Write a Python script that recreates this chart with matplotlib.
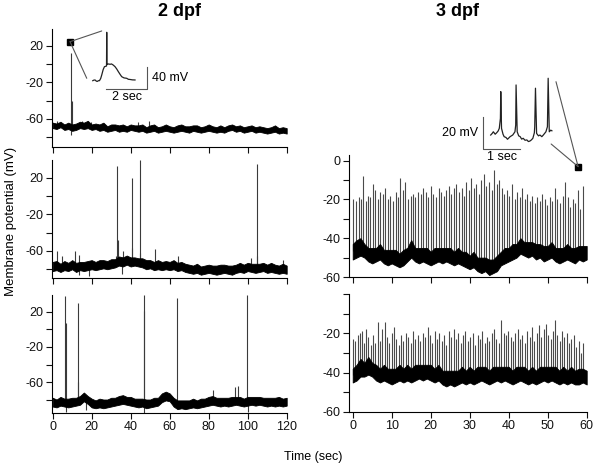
import numpy as np
import matplotlib
matplotlib.use("Agg")
import matplotlib.pyplot as plt
from matplotlib.patches import ConnectionPatch

plt.rcParams['font.family'] = ['Liberation Sans', 'DejaVu Sans']

W, H = 600, 468

# ---------------- data ----------------
# 2 dpf traces: upper / lower edge of the noisy baseline, every 2 s (mV)
t_2dpf = np.arange(0, 121, 2)
p1_hi = [-64, -65, -63, -66, -64, -66, -65, -63, -64, -62,
         -66, -65, -66, -64, -68, -66, -66, -67, -66, -68,
         -66, -67, -67, -66, -69, -67, -66, -69, -68, -66,
         -68, -69, -67, -66, -68, -68, -67, -67, -69, -68,
         -66, -68, -69, -67, -69, -67, -66, -68, -67, -69,
         -68, -67, -69, -68, -69, -70, -69, -67, -70, -69,
         -70]
p1_lo = [-70, -71, -69, -72, -71, -73, -72, -70, -71, -70,
         -72, -71, -73, -72, -74, -73, -72, -74, -73, -74,
         -72, -73, -74, -73, -75, -74, -73, -75, -74, -73,
         -74, -75, -74, -73, -74, -75, -73, -74, -75, -74,
         -73, -74, -75, -74, -75, -73, -72, -74, -73, -75,
         -74, -73, -75, -74, -75, -76, -75, -74, -76, -75,
         -76]
p1_spk_t = [2.0, 9.6, 9.6, 9.8, 15.2, 19.5, 44.0, 49.4]
p1_spk_v = [-62, 12, -78, -40, -62, -63, -63, -62]

p2_hi = [-72, -71, -74, -71, -73, -70, -73, -72, -72, -71,
         -70, -72, -70, -70, -71, -69, -69, -66, -67, -65,
         -67, -67, -68, -68, -70, -70, -72, -70, -72, -71,
         -72, -70, -73, -72, -74, -75, -76, -74, -77, -76,
         -75, -76, -76, -75, -75, -76, -76, -75, -73, -75,
         -73, -74, -74, -74, -73, -75, -73, -75, -76, -74,
         -76]
p2_lo = [-82, -81, -83, -81, -82, -80, -83, -81, -82, -81,
         -80, -81, -80, -79, -80, -79, -78, -76, -77, -75,
         -77, -76, -77, -78, -80, -79, -81, -80, -81, -80,
         -81, -80, -82, -81, -83, -84, -85, -84, -86, -85,
         -84, -85, -86, -85, -84, -85, -86, -84, -83, -84,
         -82, -83, -84, -83, -82, -84, -83, -84, -85, -84,
         -85]
p2_spk_t = [2.4, 5.0, 11.3, 13.6, 13.7, 18.6, 32.5, 33.2, 33.4, 35.7, 35.9,
            40.5, 40.6, 44.6, 44.7, 52.3, 64.4, 101.5, 104.6, 104.8, 118.0]
p2_spk_v = [-60, -66, -60, -64, -86, -87, -66, 33.5, -48, -85, -60,
            20.3, -57, 39.5, -62, -58, -66, -68, 35.3, -66, -70]

p3_hi = [-78, -80, -77, -79, -79, -78, -78, -76, -72, -76,
         -79, -81, -79, -80, -80, -78, -78, -76, -75, -77,
         -77, -79, -79, -79, -80, -80, -78, -78, -73, -71,
         -73, -78, -81, -81, -81, -81, -79, -81, -79, -79,
         -77, -76, -78, -78, -78, -78, -77, -77, -77, -79,
         -77, -77, -77, -77, -78, -78, -78, -78, -77, -79,
         -78]
p3_lo = [-88, -89, -87, -88, -89, -88, -87, -86, -82, -85,
         -89, -90, -89, -90, -89, -88, -87, -86, -85, -86,
         -87, -88, -89, -88, -90, -89, -88, -87, -83, -81,
         -82, -88, -91, -90, -91, -90, -89, -90, -89, -88,
         -87, -86, -87, -88, -87, -88, -87, -86, -87, -88,
         -87, -86, -87, -86, -87, -88, -87, -88, -87, -88,
         -87]
p3_spk_t = [6.5, 6.8, 7.0, 12.9, 13.2, 17.3, 46.7, 46.9, 46.8, 63.9,
            82.0, 93.3, 95.0, 99.8, 100.0]
p3_spk_v = [38.3, 7.8, -94, -60, 30.3, -92, 39.4, 21, -95, 36,
            -69, -66, -64, 39, -94]

# 3 dpf traces: upper / lower edge of the noisy baseline, every 1 s (mV)
t_3dpf = np.arange(0, 61, 1)
r1_hi = [-43, -41, -40, -43, -45, -45, -45, -43, -46, -46,
         -46, -46, -48, -46, -45, -41, -45, -45, -45, -45,
         -47, -45, -45, -45, -45, -45, -47, -45, -47, -47,
         -49, -47, -50, -50, -50, -51, -51, -49, -47, -45,
         -45, -43, -43, -40, -42, -42, -42, -43, -43, -44,
         -44, -42, -45, -45, -45, -43, -45, -45, -44, -44,
         -44]
r1_lo = [-51, -50, -49, -50, -52, -53, -52, -51, -53, -54,
         -53, -54, -55, -54, -52, -50, -52, -53, -52, -53,
         -54, -53, -52, -53, -52, -53, -54, -53, -54, -55,
         -56, -55, -57, -58, -57, -59, -58, -57, -54, -53,
         -52, -51, -50, -48, -49, -50, -49, -51, -50, -52,
         -51, -50, -52, -53, -52, -51, -52, -53, -51, -52,
         -51]
r1_spk_t = [0.2, 0.9, 1.5, 2.2, 2.7, 3.3, 3.9, 4.5, 5.1, 5.8, 6.4, 7.0, 7.7, 8.3,
            9.0, 9.6, 10.3, 11.0, 11.6, 12.2, 12.9, 13.5, 14.2, 14.9, 15.5, 16.1,
            16.8, 17.4, 18.1, 18.8, 19.4, 20.0, 20.7, 21.3, 22.0, 22.7, 23.3, 23.9,
            24.6, 25.2, 25.9, 26.5, 27.2, 27.9, 28.5, 29.1, 29.8, 30.4, 31.1, 31.7,
            32.4, 33.0, 33.7, 34.3, 35.0, 35.6, 36.3, 36.9, 37.6, 38.2, 38.9, 39.5,
            40.2, 40.9, 41.5, 42.2, 42.8, 43.4, 44.1, 44.7, 45.4, 46.0, 46.7, 47.3,
            48.0, 48.6, 49.3, 49.9, 50.6, 51.2, 51.9, 52.5, 53.2, 53.8, 54.5, 55.1,
            55.8, 56.4, 57.0, 57.7, 58.3, 59.0]
r1_spk_v = [-20, -21, -19, -20, -8, -21, -18, -19, -12, -15, -20, -16, -17, -14,
            -20, -18, -21, -16, -19, -9, -15, -11, -20, -18, -17, -19,
            -16, -17, -14, -16, -19, -13, -17, -19, -14, -16, -18, -15,
            -13, -17, -14, -12, -16, -14, -18, -11, -15, -9, -14, -12,
            -17, -10, -7, -13, -11, -15, -5, -12, -10, -14, -17, -15,
            -18, -12, -20, -16, -19, -14, -20, -17, -21, -18, -22, -19,
            -21, -17, -20, -23, -19, -21, -14, -20, -22, -18, -11, -19,
            -24, -20, -22, -15, -25, -13]

r2_hi = [-38, -36, -33, -35, -32, -35, -36, -38, -36, -38,
         -38, -38, -36, -38, -36, -38, -36, -36, -36, -36,
         -36, -38, -36, -39, -39, -39, -39, -39, -37, -39,
         -37, -39, -37, -37, -37, -39, -37, -37, -37, -37,
         -37, -39, -37, -37, -37, -39, -37, -39, -37, -37,
         -37, -37, -37, -39, -37, -39, -37, -39, -38, -38,
         -39]
r2_lo = [-45, -44, -42, -42, -41, -42, -44, -45, -44, -45,
         -46, -45, -44, -45, -44, -45, -44, -43, -44, -43,
         -44, -45, -44, -46, -47, -46, -47, -46, -45, -46,
         -45, -46, -45, -44, -45, -46, -45, -44, -45, -44,
         -45, -46, -45, -44, -45, -46, -45, -46, -45, -44,
         -45, -44, -45, -46, -45, -46, -45, -46, -46, -45,
         -46]
r2_spk_t = [0.1, 0.7, 1.3, 1.9, 2.4, 2.9, 3.4, 4.0, 4.6, 5.1, 5.7, 6.4, 7.0, 7.6,
            8.2, 8.8, 9.4, 10.0, 10.6, 11.2, 11.8, 12.4, 13.0, 13.6, 14.2, 14.9,
            15.5, 16.1, 16.7, 17.3, 17.9, 18.5, 19.2, 19.8, 20.4, 21.0, 21.6, 22.2,
            22.8, 23.4, 24.0, 24.6, 25.2, 25.9, 26.5, 27.1, 27.7, 28.3, 28.9, 29.5,
            30.1, 30.8, 31.4, 32.0, 32.6, 33.2, 33.8, 34.4, 35.0, 35.6, 36.2, 36.8,
            37.4, 38.1, 38.7, 39.3, 39.9, 40.5, 41.1, 41.7, 42.3, 42.9, 43.5, 44.1,
            44.8, 45.4, 46.0, 46.6, 47.2, 47.8, 48.4, 49.0, 49.6, 50.2, 50.8, 51.4,
            51.9, 52.5, 53.1, 53.7, 54.3, 54.9, 55.5, 56.1, 56.7, 57.3, 57.9, 58.5,
            59.1]
r2_spk_v = [-23, -24, -21, -20, -19, -25, -18, -22, -26, -21, -25, -14, -24, -18,
            -14, -22, -25, -20, -17, -23, -26, -21, -24, -20, -22, -25,
            -19, -23, -21, -24, -20, -22, -17, -21, -25, -19, -23, -20,
            -24, -21, -26, -19, -22, -18, -23, -20, -25, -21, -19, -24,
            -22, -20, -26, -21, -23, -19, -25, -22, -24, -20, -18, -23,
            -25, -13, -20, -21, -19, -22, -24, -20, -18, -23, -21, -25,
            -19, -22, -17, -24, -20, -16, -22, -18, -15, -21, -23, -19,
            -13, -21, -24, -19, -22, -20, -25, -23, -21, -27, -24, -30,
            -25]

# insets (time in s relative, mV)
in1_t = [0, 0.05, 0.11, 0.16, 0.21, 0.27, 0.32, 0.38, 0.43, 0.5, 0.56, 0.66, 0.67,
         0.68, 0.75, 0.83, 0.9, 0.98, 1.07, 1.15, 1.23, 1.31, 1.39, 1.5, 1.63,
         1.71, 1.79, 1.9, 2.03]
in1_v = [-70, -69, -68.7, -70.5, -71.4, -70, -70, -66, -59.8, -50, -44.9, -43.7, 16.7,
         -41, -40, -40.6, -40, -41.9, -44.9, -49, -53.9, -58.5, -62.8, -65, -65.7,
         -67.5, -67.8, -68.5, -68.7]
in2_t = [0, 0.04, 0.07, 0.12, 0.16, 0.2, 0.23, 0.26, 0.27, 0.29, 0.33, 0.36, 0.41,
         0.45, 0.52, 0.59, 0.65, 0.67, 0.68, 0.71, 0.75, 0.79, 0.83, 0.87, 0.92,
         0.97, 1.01, 1.05, 1.09, 1.13, 1.17, 1.18, 1.2, 1.23, 1.28, 1.32, 1.37,
         1.41, 1.48, 1.52, 1.54, 1.57, 1.61, 1.64]
in2_v = [-48, -47, -46, -47.5, -46.6, -45.5, -43.9, -37.8, -21.4, -43.9, -47.5, -49,
         -49.5, -50.6, -49, -48, -46, -41.9, -17.3, -46, -48.5, -49, -50.5, -50, -51.2,
         -51, -52, -51.7, -51, -50, -46.6, -42.9, -19.3, -47, -48.5, -48, -49,
         -48, -46, -42.9, -13.2, -46, -45, -45.4]

# zoom markers (where the insets come from)
mark1 = (8.9, 24.7)
mark2 = (57.8, -3.1)

# ---------------- figure ----------------
fig = plt.figure(figsize=(W / 100, H / 100), dpi=100)


def box(l, t, r, b):
    return [l / W, (H - b) / H, (r - l) / W, (b - t) / H]


def style(ax):
    for s in ('top', 'right'):
        ax.spines[s].set_visible(False)
    for s in ('left', 'bottom'):
        ax.spines[s].set_linewidth(0.8)
    ax.tick_params(direction='out', length=4, width=0.8, labelsize=9, pad=2,
                   colors='#111111')


def trace(ax, tb, hi, lo, st, sv, lw_spk, spk_col):
    hi = np.asarray(hi, float)
    lo = np.asarray(lo, float)
    st = np.asarray(st, float)
    sv = np.asarray(sv, float)
    b = np.interp(st, tb, (hi + lo) / 2)
    ax.vlines(st, np.minimum(sv, b), np.maximum(sv, b), color=spk_col,
              lw=lw_spk, zorder=2)
    ax.fill_between(tb, lo, hi, color='k', lw=0.6, edgecolor='k', zorder=3)


left_boxes = [(51.7, 29, 286.7, 147), (51.7, 160, 286.7, 278), (51.7, 295, 286.7, 413)]
left_ylims = [(-90.7, 38.6), (-89.6, 39.7), (-95.4, 39.4)]
left_data = [(p1_hi, p1_lo, p1_spk_t, p1_spk_v),
             (p2_hi, p2_lo, p2_spk_t, p2_spk_v),
             (p3_hi, p3_lo, p3_spk_t, p3_spk_v)]
laxes = []
for i in range(3):
    ax = fig.add_axes(box(*left_boxes[i]))
    hi, lo, st, sv = left_data[i]
    trace(ax, t_2dpf, hi, lo, st, sv, 0.8, '#3a3a3a')
    ax.set_xlim(-0.5, 120)
    ax.set_ylim(*left_ylims[i])
    style(ax)
    ax.set_xticks(np.arange(0, 121, 20))
    ax.set_yticks([-80, -60, -40, -20, 0, 20])
    ax.set_yticklabels(['', '-60', '', '-20', '', '20'])
    if i < 2:
        ax.set_xticklabels([])
    laxes.append(ax)

right_boxes = [(349, 155, 586.7, 277), (349, 294, 586.7, 412)]
right_ylims = [(-60, 2.9), (-60, 0)]
right_data = [(r1_hi, r1_lo, r1_spk_t, r1_spk_v), (r2_hi, r2_lo, r2_spk_t, r2_spk_v)]
raxes = []
for i in range(2):
    ax = fig.add_axes(box(*right_boxes[i]))
    hi, lo, st, sv = right_data[i]
    trace(ax, t_3dpf, hi, lo, st, sv, 0.8, '#4a4a4a')
    ax.set_xlim(-0.95, 60)
    ax.set_ylim(*right_ylims[i])
    style(ax)
    ax.set_xticks(np.arange(0, 61, 10))
    ax.set_yticks(np.arange(-60, 1, 10))
    if i == 0:
        ax.set_yticklabels(['-60', '', '-40', '', '-20', '', '0'])
        ax.set_xticklabels([])
    else:
        ax.set_yticklabels(['-60', '', '-40', '', '-20', '', ''])
    raxes.append(ax)

# markers
laxes[0].plot(*mark1, 's', color='k', ms=5, clip_on=False, zorder=6)
raxes[0].plot(*mark2, 's', color='k', ms=5, clip_on=False, zorder=6)

# inset 1 (2 dpf)
in1 = fig.add_axes(box(88, 28, 150, 92))
in1.set_xlim(-0.23, 2.75)
in1.set_ylim(-90.25, 24.4)
in1.axis('off')
in1.plot(in1_t, in1_v, color='#222222', lw=0.9)
in1.plot([2.625, 2.625, 0.625], [-45, -85, -85], color='#555555', lw=0.8, clip_on=False)
in1.text(2.84, -65, '40 mV', fontsize=9, ha='left', va='center', clip_on=False)
in1.text(1.625, -98.8, '2 sec', fontsize=9, ha='center', va='center', clip_on=False)

# inset 2 (3 dpf)
in2 = fig.add_axes(box(470, 75, 562, 152))
in2.set_xlim(-0.555, 1.911)
in2.set_ylim(-58.4, -11.2)
in2.axis('off')
in2.plot(in2_t, in2_v, color='#222222', lw=0.9)
in2.plot([-0.214, -0.214, 0.786], [-36.8, -56.8, -56.8], color='#555555', lw=0.8,
         clip_on=False)
in2.text(-0.33, -47.0, '20 mV', fontsize=9, ha='right', va='center', clip_on=False)
in2.text(0.30, -61.5, '1 sec', fontsize=9, ha='center', va='center', clip_on=False)

# connector lines
for xyB in [(0.43, 19.1), (-0.29, -65.7)]:
    cp = ConnectionPatch(xyA=mark1, coordsA=laxes[0].transData, xyB=xyB,
                         coordsB=in1.transData, color='#555555', lw=0.8)
    fig.add_artist(cp)
for xyB in [(1.75, -15.3), (1.62, -53.5)]:
    cp = ConnectionPatch(xyA=mark2, coordsA=raxes[0].transData, xyB=xyB,
                         coordsB=in2.transData, color='#555555', lw=0.8)
    fig.add_artist(cp)

# titles and labels
fig.text(179 / W, 1 - 12 / H, '2 dpf', ha='center', va='center', fontsize=13,
         fontweight='bold')
fig.text(457 / W, 1 - 12 / H, '3 dpf', ha='center', va='center', fontsize=13,
         fontweight='bold')
fig.text(11 / W, 1 - 221 / H, 'Membrane potential (mV)', rotation=90, ha='center',
         va='center', fontsize=9.5)
fig.text(313 / W, 1 - 457 / H, 'Time (sec)', ha='center', va='center', fontsize=9)

fig.savefig('out.png', dpi=100)
